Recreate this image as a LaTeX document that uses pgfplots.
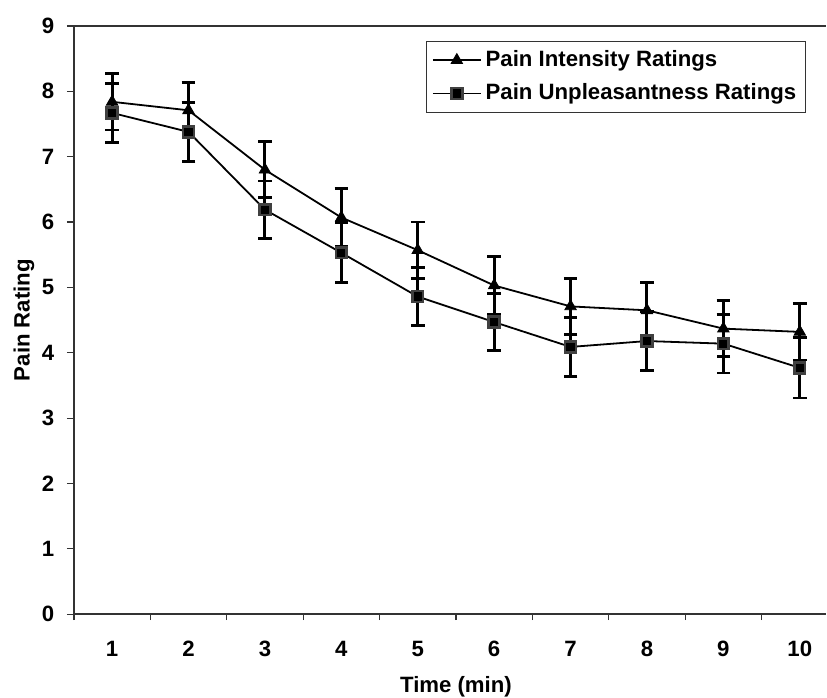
\documentclass[border=0pt]{standalone}
\usepackage{fontspec}
\setmainfont{Liberation Sans}
\usepackage{pgfplots}
\usepackage{pgfplotstable}
\pgfplotsset{compat=1.18}

% mean rating per minute, with the half-width of its error bar
\pgfplotstableread{
x  y     e
1  7.84  0.43
2  7.71  0.42
3  6.80  0.43
4  6.07  0.44
5  5.57  0.43
6  5.03  0.44
7  4.71  0.43
8  4.65  0.43
9  4.37  0.43
10 4.32  0.43
}\intensity
\pgfplotstableread{
x  y     e
1  7.67  0.45
2  7.38  0.45
3  6.19  0.44
4  5.53  0.46
5  4.86  0.44
6  4.47  0.44
7  4.09  0.45
8  4.18  0.45
9  4.14  0.45
10 3.77  0.46
}\unpleasant

\definecolor{axisgray}{HTML}{333333}

\begin{document}
\fontsize{11.1}{13}\selectfont
\begin{tikzpicture}
\begin{axis}[
  scale only axis, width=376.5pt, height=294.5pt,
  xmin=0.5, xmax=10.343, ymin=0, ymax=9,
  axis x line*=box, axis y line*=left,
  axis line style={axisgray, line width=1pt},
  xtick={1,...,10}, minor xtick={0.5,1.5,...,9.5},
  major x tick style={draw=none},
  ytick={0,...,9},
  xtick pos=left, ytick pos=left,
  tick align=outside,
  major tick length=3.5pt, minor tick length=3pt,
  tick style={axisgray, line width=0.6pt},
  /pgf/number format/assume math mode=true,
  ticklabel style={font=\bfseries},
  xticklabel shift=6pt, yticklabel shift=2.5pt,
  xlabel={\bfseries Time (min)},
  xlabel style={at={(axis description cs:0.508,-0.1324)}, anchor=base, inner sep=0pt},
  ylabel={\bfseries Pain Rating},
  ylabel style={at={(axis description cs:-0.052,0.5)}, anchor=south, rotate=0, inner sep=0pt},
  legend style={at={(0.973,0.9745)}, anchor=north east, draw=axisgray, line width=0.5pt,
    font=\bfseries, row sep=3pt, inner sep=2.5pt},
  legend cell align=left,
  legend image code/.code={\draw[mark repeat=2, mark phase=2] plot coordinates {(0pt,0pt) (12pt,0pt) (24pt,0pt)};},
  clip=false,
]
\addplot[black, line width=0.9pt, mark=triangle*, mark size=3.3pt,
  mark options={fill=black, draw=black, line width=0.4pt},
  error bars/.cd, y dir=both, y explicit,
  error bar style={black, line width=1.5pt},
  error mark options={rotate=90, mark size=3.4pt, line width=1.4pt, black}]
  table[x=x, y=y, y error=e] {\intensity};
\addlegendentry{Pain Intensity Ratings}
\addplot[black, line width=0.9pt, mark=square*, mark size=2.7pt,
  mark options={fill=black, draw=black!75, line width=1.3pt},
  error bars/.cd, y dir=both, y explicit,
  error bar style={black, line width=1.5pt},
  error mark options={rotate=90, mark size=3.4pt, line width=1.4pt, black}]
  table[x=x, y=y, y error=e] {\unpleasant};
\addlegendentry{Pain Unpleasantness Ratings}
\end{axis}
\path (-37pt,-41.5pt) rectangle ++(413.5pt,349pt);
\end{tikzpicture}
\end{document}
